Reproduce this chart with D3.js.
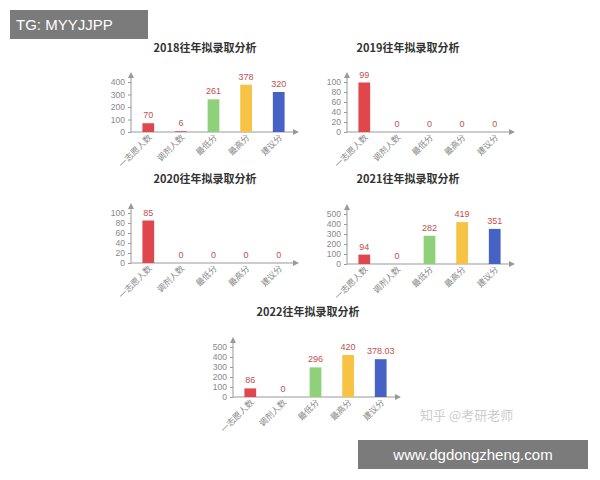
<!DOCTYPE html>
<html><head><meta charset="utf-8">
<script src="https://cdn.jsdelivr.net/npm/d3@7"></script>
<style>body{margin:0;background:#fff}svg{font-family:"Noto Sans CJK SC","Noto Sans",sans-serif}</style>
</head><body><svg id="c" width="600" height="480"></svg>
<script>
const categories = ['一志愿人数', '调剂人数', '最低分', '最高分', '建议分'];
const colors = ['#e0474c', '#e0474c', '#8fd07a', '#f6c344', '#4662c4'];
const titles = ['2018往年拟录取分析', '2019往年拟录取分析', '2020往年拟录取分析', '2021往年拟录取分析', '2022往年拟录取分析'];
const values2018 = [70, 6, 261, 378, 320];
const values2019 = [99, 0, 0, 0, 0];
const values2020 = [85, 0, 0, 0, 0];
const values2021 = [94, 0, 282, 419, 351];
const values2022 = [86, 0, 296, 420, 378.03];
const yMax = [400, 100, 100, 500, 500];
const yStep = [100, 20, 20, 100, 100];

const panels = [
  { ax: 131, base: 132, tx: 205, ty: 52, v: values2018 },
  { ax: 347, base: 132, tx: 408, ty: 52, v: values2019 },
  { ax: 131, base: 263, tx: 205, ty: 183, v: values2020 },
  { ax: 347, base: 264, tx: 408, ty: 183, v: values2021 },
  { ax: 233, base: 397, tx: 308, ty: 316, v: values2022 }
];

const svg = d3.select('#c');
const grey = '#999';

panels.forEach((p, i) => {
  const g = svg.append('g');
  g.append('text').attr('x', p.tx).attr('y', p.ty).attr('text-anchor', 'middle')
    .attr('font-size', 11).attr('font-weight', 'bold').attr('fill', '#333').text(titles[i]);

  const x = d3.scaleBand().domain(categories).range([p.ax, p.ax + 165]).paddingInner(0.64).paddingOuter(0.35);
  const y = d3.scaleLinear().domain([0, yMax[i]]).range([p.base, p.base - 50]);

  const yAxis = g.append('g').attr('transform', `translate(${p.ax},0)`)
    .call(d3.axisLeft(y).tickValues(d3.range(0, yMax[i] + 1, yStep[i])).tickSize(3));
  yAxis.select('.domain').remove();
  yAxis.selectAll('line').attr('stroke', grey);
  yAxis.selectAll('text').attr('fill', '#888').attr('font-size', 8.5).attr('font-family', 'Liberation Sans');

  g.append('line').attr('x1', p.ax).attr('x2', p.ax).attr('y1', p.base).attr('y2', p.base - 58).attr('stroke', grey);
  g.append('path').attr('d', `M${p.ax - 3},${p.base - 54}L${p.ax},${p.base - 60}L${p.ax + 3},${p.base - 54}Z`).attr('fill', grey);
  g.append('line').attr('x1', p.ax).attr('x2', p.ax + 166).attr('y1', p.base).attr('y2', p.base).attr('stroke', grey);
  g.append('path').attr('d', `M${p.ax + 162},${p.base - 3}L${p.ax + 168},${p.base}L${p.ax + 162},${p.base + 3}Z`).attr('fill', grey);

  g.selectAll('rect').data(p.v).join('rect')
    .attr('x', (d, j) => x(categories[j])).attr('width', x.bandwidth())
    .attr('y', d => y(d)).attr('height', d => p.base - y(d))
    .attr('fill', (d, j) => colors[j]);

  g.selectAll('.val').data(p.v).join('text').attr('class', 'val')
    .attr('x', (d, j) => x(categories[j]) + x.bandwidth() / 2).attr('y', d => y(d) - 5)
    .attr('text-anchor', 'middle').attr('font-size', 9).attr('fill', '#c0504d')
    .attr('font-family', 'Liberation Sans').text(d => d);

  g.selectAll('.cat').data(categories).join('text').attr('class', 'cat')
    .attr('transform', d => `translate(${x(d) + x.bandwidth() / 2 + 4},${p.base + 6}) rotate(-45)`)
    .attr('text-anchor', 'end').attr('font-size', 8.5).attr('fill', '#888').text(d => d);
});

// watermark overlays
svg.append('text').attr('x', 420).attr('y', 420).attr('font-size', 13).attr('fill', '#ccc').text('知乎 @考研老师');
svg.append('rect').attr('x', 10).attr('y', 10).attr('width', 138).attr('height', 29).attr('fill', '#7b7b7b');
svg.append('text').attr('x', 16).attr('y', 30).attr('font-size', 15).attr('fill', '#fff').attr('font-family', 'Liberation Sans').text('TG: MYYJJPP');
svg.append('rect').attr('x', 358).attr('y', 440).attr('width', 230).attr('height', 29).attr('fill', '#7b7b7b');
svg.append('text').attr('x', 473).attr('y', 460).attr('text-anchor', 'middle').attr('font-size', 15).attr('fill', '#fff').attr('font-family', 'Liberation Sans').text('www.dgdongzheng.com');
</script></body></html>
